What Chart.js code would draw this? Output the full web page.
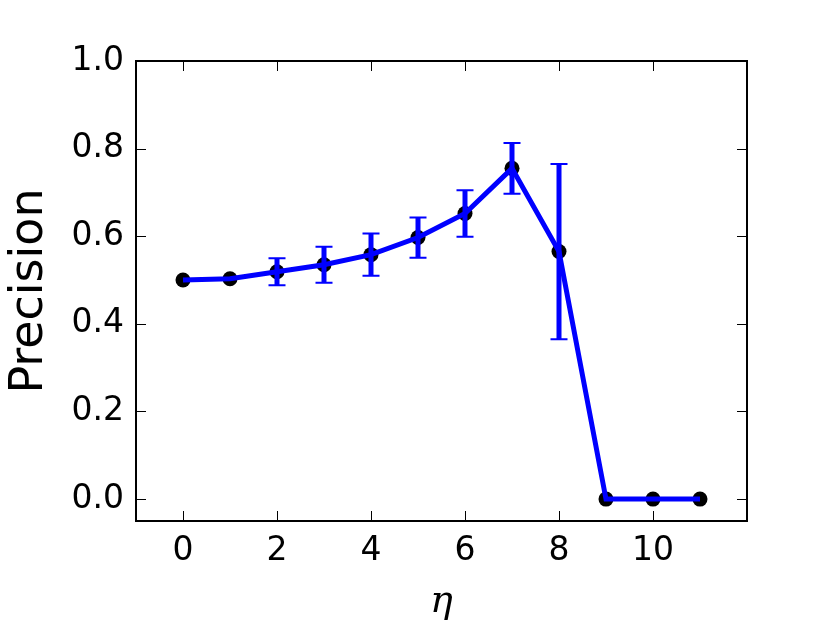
<!DOCTYPE html>
<html>
<head>
<meta charset="utf-8">
<script src="https://cdn.jsdelivr.net/npm/chart.js@4/dist/chart.umd.min.js"></script>
<style>
  body { margin: 0; background: #fff; }
  #wrap { width: 830px; height: 623px; }
</style>
</head>
<body>
<div id="wrap"><canvas id="precisionChart" width="830" height="623"></canvas></div>
<script>
// -------------------- Data --------------------
const etaValues = [0, 1, 2, 3, 4, 5, 6, 7, 8, 9, 10, 11];
const precision = [0.50, 0.503, 0.519, 0.535, 0.558, 0.597, 0.652, 0.755, 0.565, 0, 0, 0];
const precisionErr = [0, 0, 0.031, 0.041, 0.048, 0.046, 0.053, 0.058, 0.20, 0, 0, 0];
const xTicks = [0, 2, 4, 6, 8, 10];
const yTicks = [0.0, 0.2, 0.4, 0.6, 0.8, 1.0];

const points = etaValues.map((x, i) => ({ x: x, y: precision[i] }));

// -------------------- Helpers --------------------
// error bars with caps
const errorBars = {
  id: "errorBars",
  afterDatasetsDraw(chart) {
    const { ctx, scales: { x, y } } = chart;
    ctx.save();
    ctx.strokeStyle = "#0000ff";
    etaValues.forEach((eta, i) => {
      const e = precisionErr[i];
      if (!e) return;
      const px = x.getPixelForValue(eta);
      const top = y.getPixelForValue(precision[i] + e);
      const bot = y.getPixelForValue(precision[i] - e);
      ctx.lineWidth = 5;
      ctx.beginPath();
      ctx.moveTo(px, top);
      ctx.lineTo(px, bot);
      ctx.stroke();
      ctx.lineWidth = 2;
      ctx.beginPath();
      ctx.moveTo(px - 8.5, top); ctx.lineTo(px + 8.5, top);
      ctx.moveTo(px - 8.5, bot); ctx.lineTo(px + 8.5, bot);
      ctx.stroke();
    });
    ctx.restore();
  }
};

// matplotlib-style box with inward ticks
const frameTicks = {
  id: "frameTicks",
  afterDraw(chart) {
    const { ctx, chartArea: a, scales: { x, y } } = chart;
    const len = 10;
    ctx.save();
    ctx.strokeStyle = "#000";
    ctx.lineWidth = 1;
    ctx.beginPath();
    xTicks.forEach(t => {
      const px = Math.round(x.getPixelForValue(t)) + 0.5;
      ctx.moveTo(px, a.bottom); ctx.lineTo(px, a.bottom - len);
      ctx.moveTo(px, a.top); ctx.lineTo(px, a.top + len);
    });
    yTicks.forEach(t => {
      const py = Math.round(y.getPixelForValue(t)) + 0.5;
      ctx.moveTo(a.left, py); ctx.lineTo(a.left + len, py);
      ctx.moveTo(a.right, py); ctx.lineTo(a.right - len, py);
    });
    ctx.stroke();
    ctx.lineWidth = 2;
    ctx.strokeRect(a.left, a.top, a.right - a.left, a.bottom - a.top);
    ctx.restore();
  }
};

// -------------------- Chart --------------------
const ctx = document.getElementById("precisionChart").getContext("2d");
new Chart(ctx, {
  type: "line",
  data: {
    datasets: [
      {
        data: points,
        borderColor: "#0000ff",
        borderWidth: 5,
        pointRadius: 0,
        tension: 0,
        fill: false,
        order: 0
      },
      {
        data: points,
        showLine: false,
        pointRadius: 7.5,
        pointBackgroundColor: "#000",
        pointBorderColor: "#000",
        pointBorderWidth: 0,
        order: 1
      }
    ]
  },
  options: {
    responsive: false,
    animation: false,
    devicePixelRatio: 1,
    layout: { padding: { top: 61, right: 83, left: 0, bottom: 0 } },
    plugins: { legend: { display: false }, tooltip: { enabled: false } },
    scales: {
      x: {
        type: "linear",
        min: -1,
        max: 12,
        afterBuildTicks: s => { s.ticks = xTicks.map(v => ({ value: v })); },
        afterFit: s => { s.height = 102; },
        grid: { display: false, drawTicks: false },
        border: { display: false },
        ticks: {
          color: "#000",
          padding: 11,
          maxRotation: 0,
          font: { family: "DejaVu Sans", size: 33 }
        },
        title: {
          display: true,
          text: "η",
          color: "#000",
          padding: { top: 0, bottom: 2 },
          font: { family: "DejaVu Serif", style: "italic", size: 38, lineHeight: 1 }
        }
      },
      y: {
        type: "linear",
        min: -0.05,
        max: 1.0,
        afterBuildTicks: s => { s.ticks = yTicks.map(v => ({ value: v })); },
        afterFit: s => { s.width = 136; },
        grid: { display: false, drawTicks: false },
        border: { display: false },
        ticks: {
          color: "#000",
          padding: 12,
          font: { family: "DejaVu Sans", size: 33 },
          callback: v => v.toFixed(1)
        },
        title: {
          display: true,
          text: "Precision",
          color: "#000",
          padding: { top: 7, bottom: 0 },
          font: { family: "DejaVu Sans", size: 46, lineHeight: 1 }
        }
      }
    }
  },
  plugins: [errorBars, frameTicks]
});
</script>
</body>
</html>
